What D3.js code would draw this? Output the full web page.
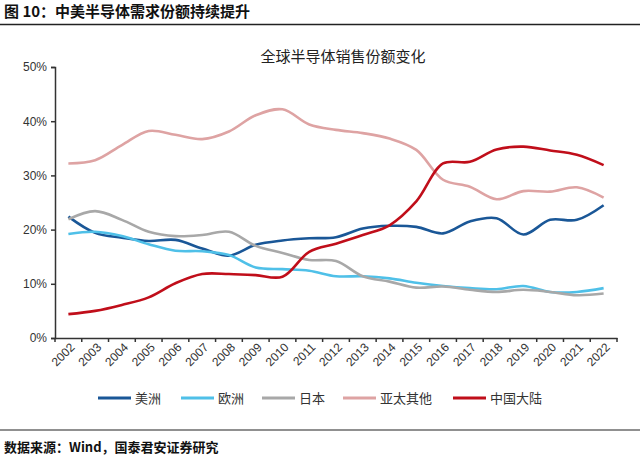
<!DOCTYPE html>
<html>
<head>
<meta charset="utf-8">
<script src="https://cdn.jsdelivr.net/npm/d3@7"></script>
<style>
  body { margin: 0; background: #fff; }
  svg { display: block; }
  .tick text { font-family: 'Liberation Sans', Arial, sans-serif; font-size: 12px; fill: #333; }
</style>
</head>
<body>
<script>
// values, in %
const years = ['2002','2003','2004','2005','2006','2007','2008','2009','2010','2011','2012',
	'2013','2014','2015','2016','2017','2018','2019','2020','2021','2022'];
const america = [22.4,19.4,18.5,17.9,18.1,16.5,15.2,17.2,18.0,18.4,18.6,20.2,20.7,20.5,19.3,21.5,22.1,19.1,21.8,21.8,24.5];
const europe = [19.2,19.6,18.8,17.3,16.1,16.0,15.3,13.0,12.7,12.4,11.4,11.4,11.0,10.2,9.6,9.2,9.0,9.6,8.5,8.5,9.2];
const japan = [21.9,23.4,21.8,19.6,18.8,19.0,19.6,17.0,15.7,14.4,14.2,11.4,10.4,9.3,9.5,8.9,8.5,8.9,8.5,7.9,8.2];
const asiaOther = [32.2,32.8,35.6,38.2,37.5,36.7,38.1,41.1,42.2,39.4,38.4,37.8,36.8,34.7,29.2,27.9,25.6,27.1,27.0,27.8,25.9];
const china = [4.4,5.0,6.1,7.5,10.1,11.8,11.8,11.6,11.3,15.9,17.4,19.0,20.8,25.2,32.2,32.5,34.8,35.3,34.6,33.8,31.9];
const yTicks = [0,10,20,30,40,50];

const series = [
	{name: '美洲', values: america, color: '#1a5797'},
	{name: '欧洲', values: europe, color: '#4fc0e8'},
	{name: '日本', values: japan, color: '#a8a8a8'},
	{name: '亚太其他', values: asiaOther, color: '#dea3a3'},
	{name: '中国大陆', values: china, color: '#c00e1a'}
];

const W = 640, H = 455;
const m = {top: 67, left: 55, right: 23, bottom: 117};

const svg = d3.select('body').append('svg')
	.attr('width', W)
	.attr('height', H);

// page title + rule
svg.append('text')
	.attr('x', 4).attr('y', 17)
	.style('font-family', "'Noto Sans CJK SC', sans-serif")
	.style('font-size', '15px')
	.style('font-weight', 'bold')
	.style('fill', '#111')
	.text('图 10：中美半导体需求份额持续提升');
svg.append('line')
	.attr('x1', 0).attr('x2', W).attr('y1', 24.5).attr('y2', 24.5)
	.attr('stroke', '#222').attr('stroke-width', 1.5);

// chart title
svg.append('text')
	.attr('x', 343).attr('y', 62)
	.attr('text-anchor', 'middle')
	.style('font-family', "'Noto Sans CJK SC', sans-serif")
	.style('font-size', '15px')
	.style('fill', '#222')
	.text('全球半导体销售份额变化');

const x = d3.scaleBand()
	.domain(years)
	.range([m.left, W - m.right]);

const y = d3.scaleLinear()
	.domain([0, 50])
	.range([H - m.bottom, m.top]);

// y axis
const yAxis = svg.append('g')
	.attr('transform', `translate(${m.left},0)`)
	.call(d3.axisLeft(y).tickValues(yTicks).tickSize(4).tickPadding(4).tickFormat(d => d + '%'));
yAxis.selectAll('line, path').attr('stroke', '#333').attr('stroke-width', 1.5);

// x axis, ticks sit between the categories
const xAxis = svg.append('g')
	.attr('transform', `translate(0,${H - m.bottom})`)
	.call(d3.axisBottom(x).tickSize(0).tickPadding(0));
xAxis.select('path').attr('stroke', '#333').attr('stroke-width', 1.5);
xAxis.selectAll('.tick text')
	.attr('text-anchor', 'end')
	.attr('dy', 0)
	.attr('transform', 'translate(7,10) rotate(-45)');

const bounds = years.map(d => x(d)).concat([x(years[years.length - 1]) + x.bandwidth()]);
xAxis.selectAll('.sep')
	.data(bounds)
	.enter()
	.append('line')
	.attr('x1', d => d).attr('x2', d => d)
	.attr('y1', 0).attr('y2', 4)
	.attr('stroke', '#333').attr('stroke-width', 1.5);

// lines
const line = d3.line()
	.x((d, i) => x(years[i]) + x.bandwidth() / 2)
	.y(d => y(d))
	.curve(d3.curveCatmullRom.alpha(0.5));

svg.selectAll('.series')
	.data(series)
	.enter()
	.append('path')
	.attr('class', 'series')
	.attr('fill', 'none')
	.attr('stroke', d => d.color)
	.attr('stroke-width', 2.6)
	.attr('d', d => line(d.values));

// legend
const legendX = [98, 181, 262, 343, 453];
const lg = svg.selectAll('.legend')
	.data(series)
	.enter()
	.append('g')
	.attr('class', 'legend')
	.attr('transform', (d, i) => `translate(${legendX[i]},398)`);
lg.append('line')
	.attr('x1', 0).attr('x2', 33)
	.attr('stroke', d => d.color)
	.attr('stroke-width', 3);
lg.append('text')
	.attr('x', 37).attr('y', 5)
	.style('font-family', "'Noto Sans CJK SC', sans-serif")
	.style('font-size', '13px')
	.style('fill', '#333')
	.text(d => d.name);

// footer
svg.append('line')
	.attr('x1', 0).attr('x2', W).attr('y1', 430).attr('y2', 430)
	.attr('stroke', '#222').attr('stroke-width', 1.2);
svg.append('text')
	.attr('x', 4).attr('y', 452)
	.style('font-family', "'Noto Sans CJK SC', sans-serif")
	.style('font-size', '13px')
	.style('font-weight', 'bold')
	.style('fill', '#111')
	.text('数据来源：Wind，国泰君安证券研究');
</script>
</body>
</html>
